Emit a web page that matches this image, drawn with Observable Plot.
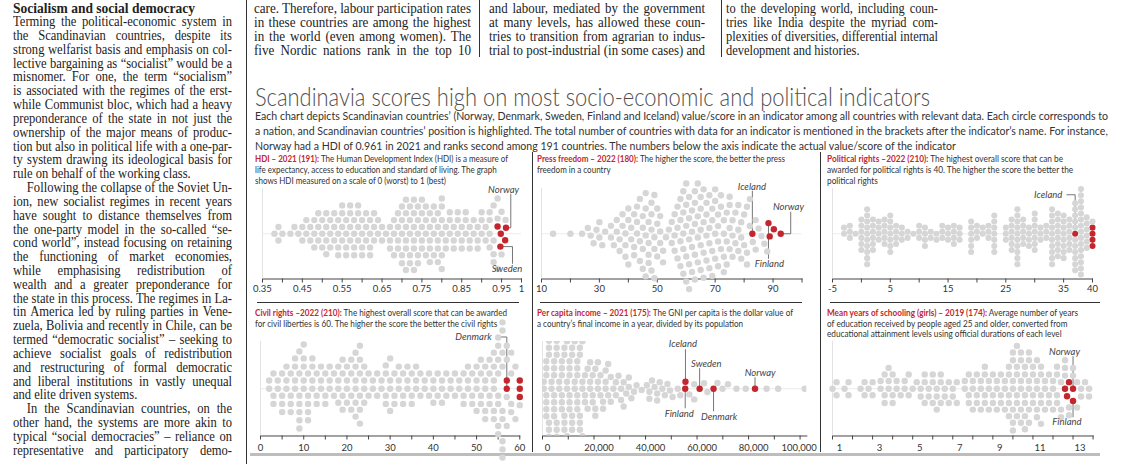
<!DOCTYPE html>
<html><head><meta charset="utf-8">
<script src="https://cdn.jsdelivr.net/npm/d3@7"></script>
<script src="https://cdn.jsdelivr.net/npm/@observablehq/plot@0.6"></script>
<style>
html,body{margin:0;padding:0;background:#fff;}
#page{position:relative;width:1127px;height:464px;overflow:hidden;background:#fff;}
.blk{position:absolute;transform-origin:0 0;white-space:nowrap;}
.ln{white-space:nowrap;}
.rule{position:absolute;}
.red{color:#c4262e;font-weight:700;}
</style></head><body><div id="page"></div>
<script>
// ---------------- DATA ----------------
// HDI 2021 (gray countries), counts per 0.01 bin starting at 0.38
const hdiStart = 0.38, hdiStep = 0.01;
const hdiCounts = [1,2,1,0,1,1,1,2,2,2, 3,3,3,4,3,3,4,4,4,4, 4,4,4,3,4,3,2,2,1,3, 3,4,5,6,5,6,5,5,4,5, 4,5,6,3,3,3,3,3,3,3, 2,3,3,2,4,4,3,2,1];
const hdiNordic = [{name:"Denmark",v:0.948},{name:"Norway",v:0.961},{name:"Finland",v:0.940},{name:"Iceland",v:0.959},{name:"Sweden",v:0.947}];
const hdiTicks = [0.35,0.4,0.45,0.5,0.55,0.6,0.65,0.7,0.75,0.8,0.85,0.9,0.95,1];
const hdiLabels = [0.35,0.45,0.55,0.65,0.75,0.85,0.95,1];
const hdiLabelText = ["0.35","0.45","0.55","0.65","0.75","0.85","0.95","1"];

// Press freedom 2022, counts per 1-point bin starting at 14
const pressStart = 14, pressStep = 1;
const pressCounts = [1,0,0,0,0,0,1,0,0,0, 1,0,1,1,1,1,2,1,1,0, 2,1,2,2,2,3,3,2,3,3, 3,4,4,4,4,4,3,3,2,1, 1,2,3,3,4,5,5,5,4,5, 4,5,4,4,4,4,4,4,3,4, 3,4,3,2,3,3,2,3,2,1, 2,1,1,1,1];
const pressNordic = [{name:"Norway",v:92.65},{name:"Denmark",v:90.27},{name:"Sweden",v:88.84},{name:"Finland",v:88.42},{name:"Iceland",v:82.85}];
const pressTicks = [10,20,30,40,50,60,70,80,90,100];
const pressLabels = [10,30,50,70,90];
const pressLabelText = ["10","30","50","70","90"];

// Political rights 2022, counts per integer score starting at -3
const polStart = -3, polStep = 1;
const polCounts = [2,3,1,6,10,6,4,5, 7,4,3,2,1,3,4,2, 2,3,3,4,3,0,6,3, 2,3,7,0,3,6,10,5, 4,7,3,3,10,8,8,6, 11,15,6,1];
const polNordic = [{name:"Norway",v:40},{name:"Sweden",v:40},{name:"Denmark",v:40},{name:"Finland",v:40},{name:"Iceland",v:37}];
const polTicks = [-5,0,5,10,15,20,25,30,35,40];
const polLabels = [-5,5,15,25,35,40];
const polLabelText = ["-5","5","15","25","35","40"];

// Civil rights 2022, counts per integer score starting at 2
const civStart = 2, civStep = 1;
const civCounts = [2,3,2,4,3,4,4,7,5,5, 4,3,3,3,3,2,4,4,4,4, 6,6,4,2,2,2,2,4,4,3, 3,3,3,3,3,2,2,2,3,2, 3,2,2,2,2,3,3,3,4,4, 5,4,6,8,9,4,4,2,1];
const civNordic = [{name:"Denmark",v:57},{name:"Norway",v:60},{name:"Sweden",v:60},{name:"Finland",v:60},{name:"Iceland",v:57}];
const civTicks = [0,5,10,15,20,25,30,35,40,45,50,55,60];
const civLabels = [0,10,20,30,40,50,60];
const civLabelText = ["0","10","20","30","40","50","60"];

// GNI per capita 2021 (thousand $), counts per 1k bin starting at 0.5k, plus sparse tail
const incStart = 0.5, incStep = 1;
const incCounts = [2,7,8,9,8,8,7,6,5,5, 6,6,7,6,5,4,3,2,3,3, 3,3,2,2,3,2,2,1,2,1, 2,2,1,2,1,1,1,0,1,0, 1,2,1,1,2,1,1,1,1,1,1,0,1,1];
const incTail = [57.0,58.9,58.9,62.7,64.0,67.9,69.9,72.0,75.3,78.9,87.0,91.5,101.8];
const incNordic = [{name:"Finland",v:55400},{name:"Iceland",v:55500},{name:"Sweden",v:61000},{name:"Denmark",v:66400},{name:"Norway",v:82500}];
const incTicks = [0,10000,20000,30000,40000,50000,60000,70000,80000,90000,100000];
const incLabels = [0,20000,40000,60000,80000,100000];
const incLabelText = ["0","20,000","40,000","60,000","80,000","100,000"];

// Mean years of schooling (girls) 2019, counts per 0.2-year bin starting at 1.0
const schStart = 1.0, schStep = 0.2;
const schCounts = [1,2,0,1,2,0,0,1,2,1, 2,0,2,3,3,3,2,1,2,2, 1,1,2,3,2,3,3,3,2,2, 2,2,0,2,3,3,3,3,4,3, 3,3,3,3,5,7,6,6,6,6, 4,5,5,3,3,3,4,3,3,2, 2,2,2,1,2];
const schNordic = [{name:"Sweden",v:12.6},{name:"Denmark",v:12.8},{name:"Iceland",v:12.7},{name:"Norway",v:13.0},{name:"Finland",v:13.0}];
const schTicks = [1,2,3,4,5,6,7,8,9,10,11,12,13,14];
const schLabels = [1,3,5,7,9,11,13];
const schLabelText = ["1","3","5","7","9","11","13"];

// ---------------- TEXT ----------------
const colLeftHead = "Socialism and social democracy";
const colLeft = [
 "Terming the political-economic system in",
 "the Scandinavian countries, despite its",
 "strong welfarist basis and emphasis on col-",
 "lective bargaining as “socialist” would be a",
 "misnomer. For one, the term “socialism”",
 "is associated with the regimes of the erst-",
 "while Communist bloc, which had a heavy",
 "preponderance of the state in not just the",
 "ownership of the major means of produc-",
 "tion but also in political life with a one-par-",
 "ty system drawing its ideological basis for",
 "rule on behalf of the working class.|",
 ">Following the collapse of the Soviet Un-",
 "ion, new socialist regimes in recent years",
 "have sought to distance themselves from",
 "the one-party model in the so-called “se-",
 "cond world”, instead focusing on retaining",
 "the functioning of market economies,",
 "while emphasising redistribution of",
 "wealth and a greater preponderance for",
 "the state in this process. The regimes in La-",
 "tin America led by ruling parties in Vene-",
 "zuela, Bolivia and recently in Chile, can be",
 "termed “democratic socialist” – seeking to",
 "achieve socialist goals of redistribution",
 "and restructuring of formal democratic",
 "and liberal institutions in vastly unequal",
 "and elite driven systems.|",
 ">In the Scandinavian countries, on the",
 "other hand, the systems are more akin to",
 "typical “social democracies” – reliance on",
 "representative and participatory demo-"
];
const colA = ["care. Therefore, labour participation rates","in these countries are among the highest","in the world (even among women). The","five Nordic nations rank in the top 10"];
const colB = ["and labour, mediated by the government","at many levels, has allowed these coun-","tries to transition from agrarian to indus-","trial to post-industrial (in some cases) and"];
const colC = ["to the developing world, including coun-","tries like India despite the myriad com-","plexities of diversities, differential internal","development and histories.|"];
const chartTitle = "Scandinavia scores high on most socio-economic and political indicators";
const chartSub = [
 "Each chart depicts Scandinavian countries’ (Norway, Denmark, Sweden, Finland and Iceland) value/score in an indicator among all countries with relevant data. Each circle corresponds to",
 "a nation, and Scandinavian countries’ position is highlighted. The total number of countries with data for an indicator is mentioned in the brackets after the indicator’s name. For instance,",
 "Norway had a HDI of 0.961 in 2021 and ranks second among 191 countries. The numbers below the axis indicate the actual value/score of the indicator"
];
const hdrHdi = ['<span class="red">HDI – 2021 (191):</span> The Human Development Index (HDI) is a measure of','life expectancy, access to education and standard of living. The graph','shows HDI measured on a scale of 0 (worst) to 1 (best)'];
const hdrPress = ['<span class="red">Press freedom – 2022 (180):</span> The higher the score, the better the press','freedom in a country'];
const hdrPol = ['<span class="red">Political rights –2022 (210):</span> The highest overall score that can be','awarded for political rights is 40. The higher the score the better the','political rights'];
const hdrCiv = ['<span class="red">Civil rights –2022 (210):</span> The highest overall score that can be awarded','for civil liberties is 60. The higher the score the better the civil rights'];
const hdrInc = ['<span class="red">Per capita income – 2021 (175):</span> The GNI per capita is the dollar value of','a country’s final income in a year, divided by its population'];
const hdrSch = ['<span class="red">Mean years of schooling (girls) – 2019 (174):</span> Average number of years','of education received by people aged 25 and older, converted from','educational attainment levels using official durations of each level'];

// ---------------- RENDER ----------------
const SANS = 'Lato, "Open Sans", Roboto, sans-serif';
const SANS_LIGHT = '"Lato Light", Lato, "Roboto Light", Roboto, sans-serif';
const SERIF = '"Liberation Serif", "DejaVu Serif", serif';
const RED = "#c4262e", GRAY = "#d6d6d6";
const page = document.getElementById("page");

function expand(start, step, counts, digits) {
  const out = [];
  counts.forEach((c, i) => { const v = +(start + i * step).toFixed(digits); for (let k = 0; k < c; k++) out.push(v); });
  return out;
}

function block(o) {
  const d = document.createElement("div"); d.className = "blk";
  Object.assign(d.style, {left: o.x + "px", top: (o.yc - o.lh / 2) + "px", fontFamily: o.font, fontSize: o.size + "px",
    fontWeight: o.weight || 400, color: o.color || "#222", lineHeight: o.lh + "px", fontStyle: o.italic ? "italic" : "normal"});
  page.appendChild(d);
  const info = o.lines.map(raw => {
    let h = raw, ind = 0, j = o.mode === "justify";
    if (h.startsWith(">")) { h = h.slice(1); ind = o.indent || 0; }
    if (h.endsWith("|")) { h = h.slice(0, -1); j = false; }
    const ln = document.createElement("div"); ln.className = "ln"; ln.style.height = o.lh + "px";
    if (ind) ln.style.paddingLeft = ind + "px";
    const sp = document.createElement("span"); sp.innerHTML = h; ln.appendChild(sp); d.appendChild(ln);
    return {sp, ind, j};
  });
  info.forEach(L => L.nat = L.sp.getBoundingClientRect().width + L.ind);
  let s;
  if (o.mode === "justify") s = o.width / d3.max(info.filter(L => L.j), L => L.nat);
  else s = o.width / info[0].nat;
  d.style.transform = `scaleX(${s})`;
  if (o.mode === "justify") info.forEach(L => {
    if (!L.j) return;
    const n = (L.sp.textContent.match(/ /g) || []).length;
    if (n) L.sp.style.wordSpacing = ((o.width / s - L.nat) / n) + "px";
  });
}

function rule(x, y, w, h, c) {
  const r = document.createElement("div"); r.className = "rule";
  Object.assign(r.style, {left: x + "px", top: y + "px", width: w + "px", height: h + "px", background: c});
  page.appendChild(r);
}

// newspaper text
block({x: 13, yc: 8, lh: 14, font: SERIF, size: 14.5, weight: 700, lines: [colLeftHead], width: 182, mode: "fit"});
block({x: 13, yc: 22, lh: 13.84, font: SERIF, size: 13.6, lines: colLeft, width: 219, mode: "justify", indent: 15});
block({x: 254, yc: 9, lh: 14, font: SERIF, size: 13.6, lines: colA, width: 217, mode: "justify"});
block({x: 489, yc: 9, lh: 14, font: SERIF, size: 13.6, lines: colB, width: 216, mode: "justify"});
block({x: 726, yc: 9, lh: 14, font: SERIF, size: 13.6, lines: colC, width: 212, mode: "justify"});
rule(246, 0, 1, 464, "#333");
rule(478.5, 0, 1, 57, "#333");
rule(720.5, 0, 1, 57, "#333");

// chart texts
block({x: 255, yc: 95.5, lh: 26, font: SANS_LIGHT, size: 25, weight: 300, color: "#505050", lines: [chartTitle], width: 675, mode: "fit"});
block({x: 255, yc: 115.8, lh: 15, font: SANS, size: 11.6, color: "#333", lines: chartSub, width: 853, mode: "fit"});
block({x: 255, yc: 158.6, lh: 11.1, font: SANS, size: 9.8, color: "#333", lines: hdrHdi, width: 253, mode: "fit"});
block({x: 537, yc: 158.6, lh: 11.1, font: SANS, size: 9.8, color: "#333", lines: hdrPress, width: 248, mode: "fit"});
block({x: 827, yc: 158.6, lh: 11.1, font: SANS, size: 9.8, color: "#333", lines: hdrPol, width: 236, mode: "fit"});
block({x: 255, yc: 312.7, lh: 10.5, font: SANS, size: 9.8, color: "#333", lines: hdrCiv, width: 252, mode: "fit"});
block({x: 537, yc: 312.7, lh: 10.5, font: SANS, size: 9.8, color: "#333", lines: hdrInc, width: 256, mode: "fit"});
block({x: 827, yc: 312.7, lh: 10.5, font: SANS, size: 9.8, color: "#333", lines: hdrSch, width: 251, mode: "fit"});
rule(532, 152, 1, 300, "#333");
rule(820, 152, 1, 300, "#333");
rule(257, 301.5, 262, 1, "#333");
rule(540, 301.5, 262, 1, "#333");
rule(830, 301.5, 270, 1, "#333");
rule(250, 453, 850, 3, "#bdbdbd");

function panel(p) {
  const ml = 16, mr = 16, mt = 34, mb = 24;
  const fw = p.right - p.left, fh = p.bottom - p.top;
  const W = fw + ml + mr, H = fh + mt + mb;
  const rows = p.hl.map(h => ({v: h.v, name: h.name, c: RED}))
    .concat(p.values.map(v => ({v, name: "", c: GRAY})));
  const labelRows = p.labels.map((v, i) => ({v, t: p.labelText[i], last: i === p.labels.length - 1}));
  const plot = Plot.plot({
    width: W, height: H, marginLeft: ml, marginRight: mr, marginTop: mt, marginBottom: mb,
    style: {fontFamily: SANS, fontSize: "9.5px", color: "#444", background: "transparent", overflow: "visible"},
    x: {domain: p.domain, ticks: p.ticks, tickFormat: () => "", tickSize: 4, line: true, label: null},
    y: {domain: [-1, 1], axis: null},
    color: {type: "identity"},
    marks: [
      Plot.ruleY([0], {stroke: "#ececec"}),
      Plot.ruleX([p.domain[0]], {stroke: "#e3e3e3"}),
      Plot.dot(rows, Plot.dodgeY({anchor: "middle", padding: p.pad}, {x: "v", r: p.r, fill: "c", title: "name", clip: !!p.clip})),
      Plot.text(labelRows.filter(d => !d.last), {x: "v", text: "t", frameAnchor: "bottom", dy: p.ldy, dx: p.ldx || 0, fill: "#333", lineAnchor: "middle"}),
      Plot.text(labelRows.filter(d => d.last), {x: "v", text: "t", frameAnchor: "bottom", dy: p.ldy, dx: p.lastDx != null ? p.lastDx : (p.ldx || 0), fill: "#333", lineAnchor: "middle"})
    ]
  });
  const wrap = document.createElement("div");
  Object.assign(wrap.style, {position: "absolute", left: (p.left - ml) + "px", top: (p.top - mt) + "px", width: W + "px", height: H + "px"});
  wrap.appendChild(plot); page.appendChild(wrap);
  plot.style.overflow = "visible";

  // annotations (leader lines + italic labels)
  const xs = plot.scale("x");
  const X = v => xs.apply(v);
  const cy0 = mt + fh / 2;
  const circles = new Map();
  let dotParent = null, firstCircle = null;
  plot.querySelectorAll("circle").forEach(c => {
    if (!firstCircle) { firstCircle = c; dotParent = c.parentNode; }
    const t = c.querySelector("title");
    if (t && t.textContent && !circles.has(t.textContent)) circles.set(t.textContent, c);
  });
  const NS = "http://www.w3.org/2000/svg";
  for (const a of p.notes) {
    const c = circles.get(a.name); if (!c) continue;
    const cx = +c.getAttribute("cx"), cy = +c.getAttribute("cy");
    let pts;
    if (a.kind === "v") {
      const lx = a.lineX == null ? cx : X(a.lineX);
      pts = [[lx, cy0 + a.y1], [lx, cy], [cx, cy]];
    } else {
      const sx = X(a.lineX);
      pts = [[sx, cy0 + a.ly], [cx, cy0 + a.ly], [cx, cy]];
    }
    const path = document.createElementNS(NS, "polyline");
    path.setAttribute("points", pts.map(q => q.join(",")).join(" "));
    path.setAttribute("fill", "none"); path.setAttribute("stroke", "#666"); path.setAttribute("stroke-width", "0.9");
    dotParent.insertBefore(path, firstCircle);
    const t = document.createElementNS(NS, "text");
    t.textContent = a.name;
    t.setAttribute("x", X(a.lx)); t.setAttribute("y", cy0 + a.ly);
    t.setAttribute("text-anchor", a.anchor || "middle");
    t.setAttribute("dominant-baseline", "central");
    t.setAttribute("font-style", "italic"); t.setAttribute("font-size", "9.5");
    t.setAttribute("fill", "#444"); t.setAttribute("font-family", SANS);
    plot.appendChild(t);
  }
}

panel({values: expand(hdiStart, hdiStep, hdiCounts, 3), hl: hdiNordic, domain: [0.35, 1], r: 3.2, pad: 1.5,
  left: 261.7, right: 520.7, top: 188, bottom: 278.5, ticks: hdiTicks, labels: hdiLabels, labelText: hdiLabelText, ldy: 10,
  notes: [{name: "Norway", lx: 0.9563, ly: -44, kind: "v", lineX: 0.9731, y1: -40},
          {name: "Sweden", lx: 0.9649, ly: 35, kind: "v", lineX: 0.9774, y1: 30}]});
panel({values: expand(pressStart, pressStep, pressCounts, 1), hl: pressNordic, domain: [10, 100], r: 3.2, pad: 1.8,
  left: 541, right: 801.5, top: 188, bottom: 278.5, ticks: pressTicks, labels: pressLabels, labelText: pressLabelText, ldy: 10,
  notes: [{name: "Iceland", lx: 82.85, ly: -47, kind: "v", lineX: null, y1: -43},
          {name: "Norway", lx: 95.5, ly: -26.5, kind: "v", lineX: 96.1, y1: -22},
          {name: "Finland", lx: 88.9, ly: 30, kind: "v", lineX: null, y1: 25}]});
panel({values: expand(polStart, polStep, polCounts, 0), hl: polNordic, domain: [-5, 40], r: 3.05, pad: 0,
  left: 831.7, right: 1091.7, top: 188, bottom: 278.5, ticks: polTicks, labels: polLabels, labelText: polLabelText, ldy: 10,
  notes: [{name: "Iceland", lx: 34.86, ly: -39, kind: "h", lineX: 35.5, anchor: "end"}]});
panel({values: expand(civStart, civStep, civCounts, 0), hl: civNordic, domain: [0, 60], r: 3.2, pad: 1.8,
  left: 260, right: 519.3, top: 340.5, bottom: 435, ticks: civTicks, labels: civLabels, labelText: civLabelText, ldy: 11.5,
  notes: [{name: "Denmark", lx: 53.6, ly: -51.75, kind: "h", lineX: 54.4, anchor: "end"}]});
panel({values: expand(incStart, incStep, incCounts, 1).concat(incTail).map(v => v * 1000), hl: incNordic, domain: [0, 102600], clip: true, r: 3.2, pad: 0.6,
  left: 541.7, right: 806, top: 340.5, bottom: 435, ticks: incTicks, labels: incLabels, labelText: incLabelText, ldy: 11.5, ldx: 5, lastDx: -1,
  notes: [{name: "Iceland", lx: 54700, ly: -44.5, kind: "v", lineX: null, y1: -39.5},
          {name: "Sweden", lx: 63800, ly: -25, kind: "v", lineX: null, y1: -20.5},
          {name: "Norway", lx: 84700, ly: -16, kind: "v", lineX: null, y1: -11.5},
          {name: "Finland", lx: 53300, ly: 25, kind: "v", lineX: null, y1: 19.5},
          {name: "Denmark", lx: 68800, ly: 28.3, kind: "v", lineX: null, y1: 22.5}]});
panel({values: expand(schStart, schStep, schCounts, 1), hl: schNordic, domain: [1, 14], r: 3.2, pad: 1.3,
  left: 831.7, right: 1092.3, top: 340.5, bottom: 435, ticks: schTicks, labels: schLabels, labelText: schLabelText, ldy: 11.5, ldx: 7,
  notes: [{name: "Norway", lx: 12.6, ly: -36.75, kind: "v", lineX: null, y1: -32.5},
          {name: "Finland", lx: 12.72, ly: 33.25, kind: "v", lineX: null, y1: 28.5}]});
</script></body></html>
